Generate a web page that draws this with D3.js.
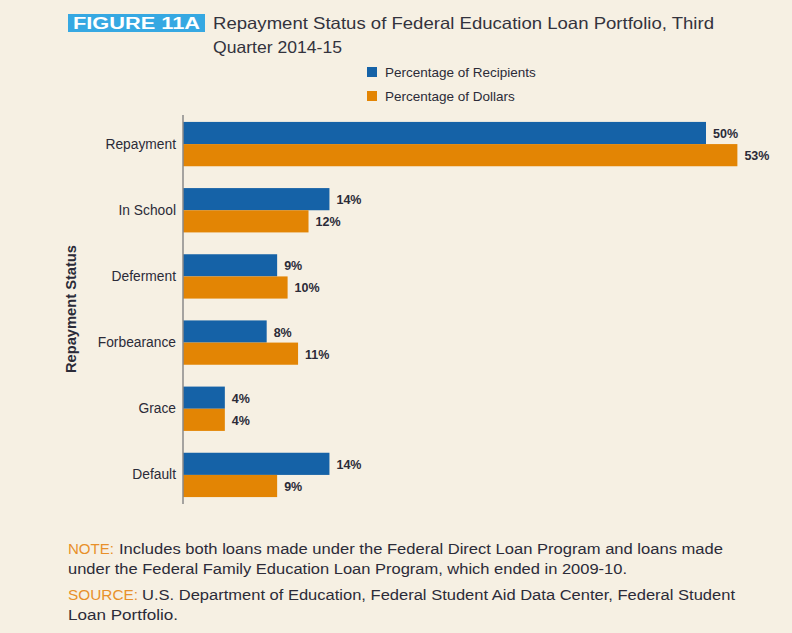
<!DOCTYPE html>
<html>
<head>
<meta charset="utf-8">
<script src="https://cdn.jsdelivr.net/npm/d3@7"></script>
<style>
  body { margin: 0; background: #f6f0e3; }
  svg { display: block; }
</style>
</head>
<body>
<div id="myPlot"></div>
<script>
// chart data
const categories = ["Repayment", "In School", "Deferment", "Forbearance", "Grace", "Default"];
const seriesNames = ["Percentage of Recipients", "Percentage of Dollars"];
const recipients = [50, 14, 9, 8, 4, 14];
const dollars = [53, 12, 10, 11, 4, 9];

const noteLines = [
  "Includes both loans made under the Federal Direct Loan Program and loans made",
  "under the Federal Family Education Loan Program, which ended in 2009-10."
];
const sourceLines = [
  "U.S. Department of Education, Federal Student Aid Data Center, Federal Student",
  "Loan Portfolio."
];

window.onload = () => {
  const width = 792, height = 633;
  const colors = ["#1562a7", "#e38504"];
  const font = "'Liberation Sans', Arial, sans-serif";
  const textColor = "#2b2b38";

  const svg = d3.select("#myPlot")
    .append("svg")
    .attr("width", width)
    .attr("height", height)
    .style("font-family", font);

  svg.append("rect")
    .attr("width", width).attr("height", height)
    .attr("fill", "#f6f0e3");

  // Title
  svg.append("rect")
    .attr("x", 68).attr("y", 14)
    .attr("width", 137).attr("height", 18)
    .attr("fill", "#36a8e2");
  svg.append("text")
    .attr("x", 73).attr("y", 29)
    .attr("textLength", 127)
    .attr("lengthAdjust", "spacingAndGlyphs")
    .attr("fill", "#ffffff")
    .style("font-weight", "bold")
    .style("font-size", "16px")
    .text("FIGURE 11A");

  svg.append("text")
    .attr("x", 213).attr("y", 29)
    .attr("textLength", 501)
    .attr("lengthAdjust", "spacingAndGlyphs")
    .attr("fill", "#33333d")
    .style("font-size", "16.5px")
    .text("Repayment Status of Federal Education Loan Portfolio, Third");
  svg.append("text")
    .attr("x", 213).attr("y", 53)
    .attr("textLength", 129)
    .attr("lengthAdjust", "spacingAndGlyphs")
    .attr("fill", "#33333d")
    .style("font-size", "16.5px")
    .text("Quarter 2014-15");

  // Legend
  const legend = svg.append("g");
  seriesNames.forEach((name, i) => {
    legend.append("rect")
      .attr("x", 367).attr("y", 67 + i * 24)
      .attr("width", 10).attr("height", 10)
      .attr("fill", colors[i]);
    legend.append("text")
      .attr("x", 385).attr("y", 77 + i * 24)
      .attr("fill", textColor)
      .style("font-size", "13.5px")
      .text(name);
  });

  // Scales
  const x = d3.scaleLinear()
    .domain([0, 50])
    .range([183, 706]);

  const y = d3.scaleBand()
    .domain(categories)
    .range([111, 508])
    .paddingInner(0.33)
    .paddingOuter(0.165);

  const inner = d3.scaleBand()
    .domain([0, 1])
    .range([0, y.bandwidth()]);

  // Bars
  const data = [];
  categories.forEach((c, i) => {
    data.push({ cat: c, s: 0, v: recipients[i] });
    data.push({ cat: c, s: 1, v: dollars[i] });
  });

  const plot = svg.append("g");

  plot.selectAll("rect.bar")
    .data(data).enter()
    .append("rect")
    .attr("class", "bar")
    .attr("x", x(0))
    .attr("y", d => y(d.cat) + inner(d.s))
    .attr("width", d => x(d.v) - x(0))
    .attr("height", inner.bandwidth())
    .attr("fill", d => colors[d.s]);

  plot.selectAll("text.val")
    .data(data).enter()
    .append("text")
    .attr("class", "val")
    .attr("x", d => x(d.v) + 7)
    .attr("y", d => y(d.cat) + inner(d.s) + inner.bandwidth() / 2 + 5)
    .attr("fill", textColor)
    .style("font-weight", "bold")
    .style("font-size", "12.5px")
    .text(d => d.v + "%");

  // Y axis
  const yAxis = svg.append("g")
    .attr("transform", "translate(" + x(0) + ",0)")
    .call(d3.axisLeft(y).tickSize(0).tickPadding(7));
  yAxis.select(".domain")
    .attr("d", "M0,115V504")
    .attr("stroke", "#8a8a8a")
    .attr("stroke-width", 1.5);
  yAxis.selectAll(".tick text")
    .attr("fill", textColor)
    .style("font-family", font)
    .style("font-size", "13.8px");

  svg.append("text")
    .attr("transform", "translate(76,309) rotate(-90)")
    .attr("text-anchor", "middle")
    .attr("textLength", 128)
    .attr("lengthAdjust", "spacingAndGlyphs")
    .attr("fill", textColor)
    .style("font-weight", "bold")
    .style("font-size", "14px")
    .text("Repayment Status");

  // Note and source
  const foot = svg.append("g")
    .style("font-size", "14px")
    .attr("fill", textColor);

  const footRows = [
    { label: "NOTE:", lw: 46, lx: 119, lines: noteLines, y: 554, w: [604, 559] },
    { label: "SOURCE:", lw: 70, lx: 142, lines: sourceLines, y: 600, w: [593, 110] }
  ];
  footRows.forEach(r => {
    foot.append("text")
      .attr("x", 68).attr("y", r.y)
      .attr("textLength", r.lw)
      .attr("lengthAdjust", "spacingAndGlyphs")
      .attr("fill", "#e8902a")
      .text(r.label);
    foot.append("text")
      .attr("x", r.lx).attr("y", r.y)
      .attr("textLength", r.w[0])
      .attr("lengthAdjust", "spacingAndGlyphs")
      .text(r.lines[0]);
    foot.append("text")
      .attr("x", 68).attr("y", r.y + 20)
      .attr("textLength", r.w[1])
      .attr("lengthAdjust", "spacingAndGlyphs")
      .text(r.lines[1]);
  });
};
</script>
</body>
</html>
